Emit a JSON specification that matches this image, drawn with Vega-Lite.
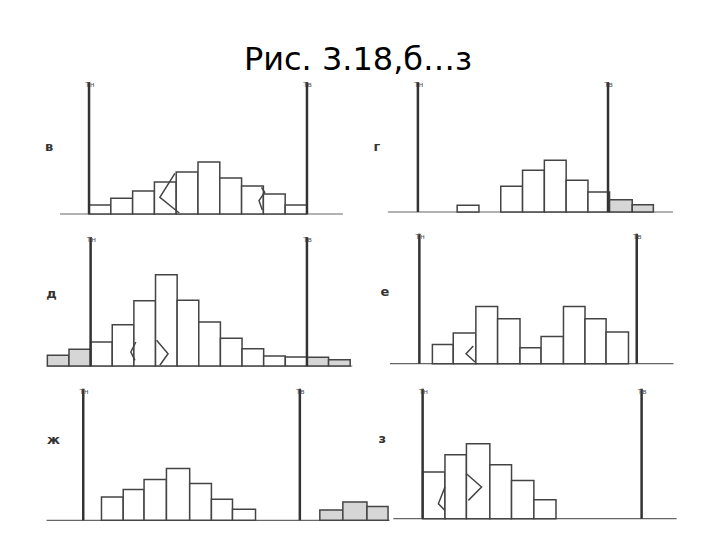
{
 "$schema":"https://vega.github.io/schema/vega-lite/v6.json",
 "padding":{"left":40,"top":44,"right":0,"bottom":0},
 "bounds":"flush",
 "background":"white",
 "title":{"text":"Рис. 3.18,б…з","fontSize":32,"font":"DejaVu Sans","fontWeight":"normal","color":"#000000","anchor":"middle","offset":-3,"dx":-7},
 "data":{"values":[
  {"p":"в","k":"base","x":-1.33,"x2":11.65,"y":0},
  {"p":"в","k":"v","x":0,"y":0,"y2":132},
  {"p":"в","k":"v","x":10,"y":0,"y2":132},
  {"p":"в","k":"tl","x":0,"y":132,"t":"Тн"},
  {"p":"в","k":"tl","x":10,"y":132,"t":"Тв"},
  {"p":"в","k":"lab","x":-1.83,"y":67,"t":"в"},
  {"p":"в","k":"bar","x":0,"x2":1,"y":0,"y2":9},
  {"p":"в","k":"bar","x":1,"x2":2,"y":0,"y2":15.7},
  {"p":"в","k":"bar","x":2,"x2":3,"y":0,"y2":23},
  {"p":"в","k":"bar","x":3,"x2":4,"y":0,"y2":32},
  {"p":"в","k":"bar","x":4,"x2":5,"y":0,"y2":42},
  {"p":"в","k":"bar","x":5,"x2":6,"y":0,"y2":52},
  {"p":"в","k":"bar","x":6,"x2":7,"y":0,"y2":36},
  {"p":"в","k":"bar","x":7,"x2":8,"y":0,"y2":28},
  {"p":"в","k":"bar","x":8,"x2":9,"y":0,"y2":20},
  {"p":"в","k":"bar","x":9,"x2":10,"y":0,"y2":9},
  {"p":"в","k":"w","g":"в1","o":1,"x":3.94,"y":40.7},
  {"p":"в","k":"w","g":"в1","o":2,"x":3.25,"y":16.7},
  {"p":"в","k":"w","g":"в1","o":3,"x":4.14,"y":1},
  {"p":"в","k":"w","g":"в2","o":1,"x":7.91,"y":26.7},
  {"p":"в","k":"w","g":"в2","o":2,"x":8.06,"y":21.7},
  {"p":"в","k":"w","g":"в2","o":3,"x":7.8,"y":13.3},
  {"p":"в","k":"w","g":"в2","o":4,"x":7.95,"y":4},

  {"p":"г","k":"base","x":-1.38,"x2":11.7,"y":0},
  {"p":"г","k":"v","x":0,"y":0,"y2":130},
  {"p":"г","k":"v","x":8.72,"y":0,"y2":130},
  {"p":"г","k":"tl","x":0,"y":130,"t":"Тн"},
  {"p":"г","k":"tl","x":8.72,"y":130,"t":"Тв"},
  {"p":"г","k":"lab","x":-1.88,"y":65,"t":"г"},
  {"p":"г","k":"bar","x":1.8,"x2":2.8,"y":0,"y2":6.7},
  {"p":"г","k":"bar","x":3.8,"x2":4.8,"y":0,"y2":25.7},
  {"p":"г","k":"bar","x":4.8,"x2":5.8,"y":0,"y2":41.7},
  {"p":"г","k":"bar","x":5.8,"x2":6.8,"y":0,"y2":51.7},
  {"p":"г","k":"bar","x":6.8,"x2":7.8,"y":0,"y2":31.7},
  {"p":"г","k":"bar","x":7.8,"x2":8.79,"y":0,"y2":20},
  {"p":"г","k":"bar","x":8.79,"x2":9.83,"y":0,"y2":12.3,"s":1},
  {"p":"г","k":"bar","x":9.83,"x2":10.8,"y":0,"y2":7.3,"s":1},

  {"p":"д","k":"base","x":-2.03,"x2":12.1,"y":0},
  {"p":"д","k":"v","x":0,"y":0,"y2":129},
  {"p":"д","k":"v","x":10,"y":0,"y2":129},
  {"p":"д","k":"tl","x":0,"y":129,"t":"Тн"},
  {"p":"д","k":"tl","x":10,"y":129,"t":"Тв"},
  {"p":"д","k":"lab","x":-1.81,"y":72,"t":"д"},
  {"p":"д","k":"bar","x":-2,"x2":-1,"y":0,"y2":10.7,"s":1},
  {"p":"д","k":"bar","x":-1,"x2":0,"y":0,"y2":16.7,"s":1},
  {"p":"д","k":"bar","x":0,"x2":1,"y":0,"y2":24},
  {"p":"д","k":"bar","x":1,"x2":2,"y":0,"y2":41.3},
  {"p":"д","k":"bar","x":2,"x2":3,"y":0,"y2":65.3},
  {"p":"д","k":"bar","x":3,"x2":4,"y":0,"y2":91.3},
  {"p":"д","k":"bar","x":4,"x2":5,"y":0,"y2":65.7},
  {"p":"д","k":"bar","x":5,"x2":6,"y":0,"y2":44},
  {"p":"д","k":"bar","x":6,"x2":7,"y":0,"y2":27.7},
  {"p":"д","k":"bar","x":7,"x2":8,"y":0,"y2":17.3},
  {"p":"д","k":"bar","x":8,"x2":9,"y":0,"y2":10},
  {"p":"д","k":"bar","x":9,"x2":10,"y":0,"y2":9},
  {"p":"д","k":"bar","x":10,"x2":11,"y":0,"y2":8.7,"s":1},
  {"p":"д","k":"bar","x":11,"x2":12,"y":0,"y2":6.3,"s":1},
  {"p":"д","k":"w","g":"д1","o":1,"x":2.09,"y":24},
  {"p":"д","k":"w","g":"д1","o":2,"x":1.86,"y":14},
  {"p":"д","k":"w","g":"д1","o":3,"x":2.05,"y":5.7},
  {"p":"д","k":"w","g":"д2","o":1,"x":3.05,"y":25.7},
  {"p":"д","k":"w","g":"д2","o":2,"x":3.58,"y":12.3},
  {"p":"д","k":"w","g":"д2","o":3,"x":3.2,"y":0.7},

  {"p":"е","k":"base","x":-1.35,"x2":11.69,"y":0},
  {"p":"е","k":"v","x":0,"y":0,"y2":130},
  {"p":"е","k":"v","x":10,"y":0,"y2":130},
  {"p":"е","k":"tl","x":0,"y":130,"t":"Тн"},
  {"p":"е","k":"tl","x":10,"y":130,"t":"Тв"},
  {"p":"е","k":"lab","x":-1.58,"y":72,"t":"е"},
  {"p":"е","k":"bar","x":0.6,"x2":1.56,"y":0,"y2":19.3},
  {"p":"е","k":"bar","x":1.56,"x2":2.6,"y":0,"y2":30.7},
  {"p":"е","k":"bar","x":2.6,"x2":3.6,"y":0,"y2":57.3},
  {"p":"е","k":"bar","x":3.6,"x2":4.63,"y":0,"y2":45},
  {"p":"е","k":"bar","x":4.63,"x2":5.6,"y":0,"y2":16},
  {"p":"е","k":"bar","x":5.6,"x2":6.63,"y":0,"y2":27.3},
  {"p":"е","k":"bar","x":6.63,"x2":7.62,"y":0,"y2":57.3},
  {"p":"е","k":"bar","x":7.62,"x2":8.59,"y":0,"y2":45},
  {"p":"е","k":"bar","x":8.59,"x2":9.62,"y":0,"y2":31.7},
  {"p":"е","k":"w","g":"е1","o":1,"x":2.48,"y":17.7},
  {"p":"е","k":"w","g":"е1","o":2,"x":2.15,"y":10},
  {"p":"е","k":"w","g":"е1","o":3,"x":2.56,"y":1.7},

  {"p":"ж","k":"base","x":-1.69,"x2":14.1,"y":0},
  {"p":"ж","k":"v","x":0,"y":0,"y2":131.6},
  {"p":"ж","k":"v","x":9.97,"y":0,"y2":131.6},
  {"p":"ж","k":"tl","x":0,"y":131.6,"t":"Тн"},
  {"p":"ж","k":"tl","x":9.97,"y":131.6,"t":"Тв"},
  {"p":"ж","k":"lab","x":-1.37,"y":80,"t":"ж"},
  {"p":"ж","k":"bar","x":0.84,"x2":1.84,"y":0,"y2":23.3},
  {"p":"ж","k":"bar","x":1.84,"x2":2.8,"y":0,"y2":30.7},
  {"p":"ж","k":"bar","x":2.8,"x2":3.83,"y":0,"y2":40.7},
  {"p":"ж","k":"bar","x":3.83,"x2":4.9,"y":0,"y2":51.7},
  {"p":"ж","k":"bar","x":4.9,"x2":5.9,"y":0,"y2":36.7},
  {"p":"ж","k":"bar","x":5.9,"x2":6.87,"y":0,"y2":21},
  {"p":"ж","k":"bar","x":6.87,"x2":7.93,"y":0,"y2":11},
  {"p":"ж","k":"bar","x":10.89,"x2":11.95,"y":0,"y2":10.3,"s":1},
  {"p":"ж","k":"bar","x":11.95,"x2":13.06,"y":0,"y2":18.3,"s":1},
  {"p":"ж","k":"bar","x":13.06,"x2":14.03,"y":0,"y2":13.7,"s":1},

  {"p":"з","k":"base","x":-1.34,"x2":11.6,"y":0},
  {"p":"з","k":"v","x":0,"y":0,"y2":130},
  {"p":"з","k":"v","x":10,"y":0,"y2":130},
  {"p":"з","k":"tl","x":0,"y":130,"t":"Тн"},
  {"p":"з","k":"tl","x":10,"y":130,"t":"Тв"},
  {"p":"з","k":"lab","x":-1.84,"y":80,"t":"з"},
  {"p":"з","k":"bar","x":0,"x2":1.02,"y":0,"y2":46.7},
  {"p":"з","k":"bar","x":1.02,"x2":2,"y":0,"y2":64},
  {"p":"з","k":"bar","x":2,"x2":3.07,"y":0,"y2":75},
  {"p":"з","k":"bar","x":3.07,"x2":4.06,"y":0,"y2":54},
  {"p":"з","k":"bar","x":4.06,"x2":5.08,"y":0,"y2":38.3},
  {"p":"з","k":"bar","x":5.08,"x2":6.09,"y":0,"y2":19},
  {"p":"з","k":"w","g":"з1","o":1,"x":1.02,"y":31.7},
  {"p":"з","k":"w","g":"з1","o":2,"x":0.72,"y":15},
  {"p":"з","k":"w","g":"з1","o":3,"x":1.02,"y":8.3},
  {"p":"з","k":"w","g":"з2","o":1,"x":2.0,"y":45},
  {"p":"з","k":"w","g":"з2","o":2,"x":2.69,"y":31.7},
  {"p":"з","k":"w","g":"з2","o":3,"x":2.09,"y":18.3}
 ]},
 "columns":2,
 "spacing":{"row":12,"column":0},
 "concat":[
   {"width":350,"height":140,"transform":[{"filter":"datum.p=='в'"}],
    "encoding":{"x":{"field":"x","type":"quantitative","scale":{"domain":[-2.25,13.81],"nice":false,"zero":false},"axis":null},
                "y":{"field":"y","type":"quantitative","scale":{"domain":[0,140],"nice":false,"zero":false},"axis":null}},
    "layer":[
     {"transform":[{"filter":"datum.k=='base'"}],"mark":{"type":"rule","color":"#666666","strokeWidth":1.2},"encoding":{"x2":{"field":"x2"}}},
     {"transform":[{"filter":"datum.k=='bar'"}],"mark":{"type":"rect","stroke":"#444444","strokeWidth":1.5},"encoding":{"x2":{"field":"x2"},"y2":{"field":"y2"},"fill":{"condition":{"test":"datum.s==1","value":"#d6d6d6"},"value":"#ffffff"}}},
     {"transform":[{"filter":"datum.k=='w'"}],"mark":{"type":"line","color":"#444444","strokeWidth":1.5},"encoding":{"detail":{"field":"g","type":"nominal"},"order":{"field":"o","type":"quantitative"}}},
     {"transform":[{"filter":"datum.k=='v'"}],"mark":{"type":"rule","color":"#333333","strokeWidth":2.5},"encoding":{"y2":{"field":"y2"}}},
     {"transform":[{"filter":"datum.k=='tl'"}],"mark":{"type":"text","fontSize":8,"color":"#555555","align":"left","baseline":"top","dx":-4,"dy":-1},"encoding":{"text":{"field":"t"}}},
     {"transform":[{"filter":"datum.k=='lab'"}],"mark":{"type":"text","fontSize":13,"fontWeight":"bold","color":"#333333","font":"DejaVu Sans"},"encoding":{"text":{"field":"t"}}}
    ]},
   {"width":300,"height":140,"transform":[{"filter":"datum.p=='г'"}],
    "encoding":{"x":{"field":"x","type":"quantitative","scale":{"domain":[-1.28,12.48],"nice":false,"zero":false},"axis":null},
                "y":{"field":"y","type":"quantitative","scale":{"domain":[-2,138],"nice":false,"zero":false},"axis":null}},
    "layer":[
     {"transform":[{"filter":"datum.k=='base'"}],"mark":{"type":"rule","color":"#666666","strokeWidth":1.2},"encoding":{"x2":{"field":"x2"}}},
     {"transform":[{"filter":"datum.k=='bar'"}],"mark":{"type":"rect","stroke":"#444444","strokeWidth":1.5},"encoding":{"x2":{"field":"x2"},"y2":{"field":"y2"},"fill":{"condition":{"test":"datum.s==1","value":"#d6d6d6"},"value":"#ffffff"}}},
     {"transform":[{"filter":"datum.k=='v'"}],"mark":{"type":"rule","color":"#333333","strokeWidth":2.5},"encoding":{"y2":{"field":"y2"}}},
     {"transform":[{"filter":"datum.k=='tl'"}],"mark":{"type":"text","fontSize":8,"color":"#555555","align":"left","baseline":"top","dx":-4,"dy":-1},"encoding":{"text":{"field":"t"}}},
     {"transform":[{"filter":"datum.k=='lab'"}],"mark":{"type":"text","fontSize":13,"fontWeight":"bold","color":"#333333","font":"DejaVu Sans"},"encoding":{"text":{"field":"t"}}}
    ]},
   {"width":350,"height":140,"transform":[{"filter":"datum.p=='д'"}],
    "encoding":{"x":{"field":"x","type":"quantitative","scale":{"domain":[-2.34,13.84],"nice":false,"zero":false},"axis":null},
                "y":{"field":"y","type":"quantitative","scale":{"domain":[0,140],"nice":false,"zero":false},"axis":null}},
    "layer":[
     {"transform":[{"filter":"datum.k=='base'"}],"mark":{"type":"rule","color":"#666666","strokeWidth":1.2},"encoding":{"x2":{"field":"x2"}}},
     {"transform":[{"filter":"datum.k=='bar'"}],"mark":{"type":"rect","stroke":"#444444","strokeWidth":1.5},"encoding":{"x2":{"field":"x2"},"y2":{"field":"y2"},"fill":{"condition":{"test":"datum.s==1","value":"#d6d6d6"},"value":"#ffffff"}}},
     {"transform":[{"filter":"datum.k=='w'"}],"mark":{"type":"line","color":"#444444","strokeWidth":1.5},"encoding":{"detail":{"field":"g","type":"nominal"},"order":{"field":"o","type":"quantitative"}}},
     {"transform":[{"filter":"datum.k=='v'"}],"mark":{"type":"rule","color":"#333333","strokeWidth":2.5},"encoding":{"y2":{"field":"y2"}}},
     {"transform":[{"filter":"datum.k=='tl'"}],"mark":{"type":"text","fontSize":8,"color":"#555555","align":"left","baseline":"top","dx":-4,"dy":-1},"encoding":{"text":{"field":"t"}}},
     {"transform":[{"filter":"datum.k=='lab'"}],"mark":{"type":"text","fontSize":13,"fontWeight":"bold","color":"#333333","font":"DejaVu Sans"},"encoding":{"text":{"field":"t"}}}
    ]},
   {"width":300,"height":140,"transform":[{"filter":"datum.p=='е'"}],
    "encoding":{"x":{"field":"x","type":"quantitative","scale":{"domain":[-1.35,12.45],"nice":false,"zero":false},"axis":null},
                "y":{"field":"y","type":"quantitative","scale":{"domain":[-2.3,137.7],"nice":false,"zero":false},"axis":null}},
    "layer":[
     {"transform":[{"filter":"datum.k=='base'"}],"mark":{"type":"rule","color":"#666666","strokeWidth":1.2},"encoding":{"x2":{"field":"x2"}}},
     {"transform":[{"filter":"datum.k=='bar'"}],"mark":{"type":"rect","stroke":"#444444","strokeWidth":1.5},"encoding":{"x2":{"field":"x2"},"y2":{"field":"y2"},"fill":{"condition":{"test":"datum.s==1","value":"#d6d6d6"},"value":"#ffffff"}}},
     {"transform":[{"filter":"datum.k=='w'"}],"mark":{"type":"line","color":"#444444","strokeWidth":1.5},"encoding":{"detail":{"field":"g","type":"nominal"},"order":{"field":"o","type":"quantitative"}}},
     {"transform":[{"filter":"datum.k=='v'"}],"mark":{"type":"rule","color":"#333333","strokeWidth":2.5},"encoding":{"y2":{"field":"y2"}}},
     {"transform":[{"filter":"datum.k=='tl'"}],"mark":{"type":"text","fontSize":8,"color":"#555555","align":"left","baseline":"top","dx":-4,"dy":-1},"encoding":{"text":{"field":"t"}}},
     {"transform":[{"filter":"datum.k=='lab'"}],"mark":{"type":"text","fontSize":13,"fontWeight":"bold","color":"#333333","font":"DejaVu Sans"},"encoding":{"text":{"field":"t"}}}
    ]},
   {"width":350,"height":140,"transform":[{"filter":"datum.p=='ж'"}],
    "encoding":{"x":{"field":"x","type":"quantitative","scale":{"domain":[-1.99,14.12],"nice":false,"zero":false},"axis":null},
                "y":{"field":"y","type":"quantitative","scale":{"domain":[2.3,142.3],"nice":false,"zero":false},"axis":null}},
    "layer":[
     {"transform":[{"filter":"datum.k=='base'"}],"mark":{"type":"rule","color":"#666666","strokeWidth":1.2},"encoding":{"x2":{"field":"x2"}}},
     {"transform":[{"filter":"datum.k=='bar'"}],"mark":{"type":"rect","stroke":"#444444","strokeWidth":1.5},"encoding":{"x2":{"field":"x2"},"y2":{"field":"y2"},"fill":{"condition":{"test":"datum.s==1","value":"#d6d6d6"},"value":"#ffffff"}}},
     {"transform":[{"filter":"datum.k=='v'"}],"mark":{"type":"rule","color":"#333333","strokeWidth":2.5},"encoding":{"y2":{"field":"y2"}}},
     {"transform":[{"filter":"datum.k=='tl'"}],"mark":{"type":"text","fontSize":8,"color":"#555555","align":"left","baseline":"top","dx":-4,"dy":-1},"encoding":{"text":{"field":"t"}}},
     {"transform":[{"filter":"datum.k=='lab'"}],"mark":{"type":"text","fontSize":13,"fontWeight":"bold","color":"#333333","font":"DejaVu Sans"},"encoding":{"text":{"field":"t"}}}
    ]},
   {"width":300,"height":140,"transform":[{"filter":"datum.p=='з'"}],
    "encoding":{"x":{"field":"x","type":"quantitative","scale":{"domain":[-1.49,12.21],"nice":false,"zero":false},"axis":null},
                "y":{"field":"y","type":"quantitative","scale":{"domain":[0.7,140.7],"nice":false,"zero":false},"axis":null}},
    "layer":[
     {"transform":[{"filter":"datum.k=='base'"}],"mark":{"type":"rule","color":"#666666","strokeWidth":1.2},"encoding":{"x2":{"field":"x2"}}},
     {"transform":[{"filter":"datum.k=='bar'"}],"mark":{"type":"rect","stroke":"#444444","strokeWidth":1.5},"encoding":{"x2":{"field":"x2"},"y2":{"field":"y2"},"fill":{"condition":{"test":"datum.s==1","value":"#d6d6d6"},"value":"#ffffff"}}},
     {"transform":[{"filter":"datum.k=='w'"}],"mark":{"type":"line","color":"#444444","strokeWidth":1.5},"encoding":{"detail":{"field":"g","type":"nominal"},"order":{"field":"o","type":"quantitative"}}},
     {"transform":[{"filter":"datum.k=='v'"}],"mark":{"type":"rule","color":"#333333","strokeWidth":2.5},"encoding":{"y2":{"field":"y2"}}},
     {"transform":[{"filter":"datum.k=='tl'"}],"mark":{"type":"text","fontSize":8,"color":"#555555","align":"left","baseline":"top","dx":-4,"dy":-1},"encoding":{"text":{"field":"t"}}},
     {"transform":[{"filter":"datum.k=='lab'"}],"mark":{"type":"text","fontSize":13,"fontWeight":"bold","color":"#333333","font":"DejaVu Sans"},"encoding":{"text":{"field":"t"}}}
    ]}
 ],
 "config":{"view":{"stroke":null}}
}
